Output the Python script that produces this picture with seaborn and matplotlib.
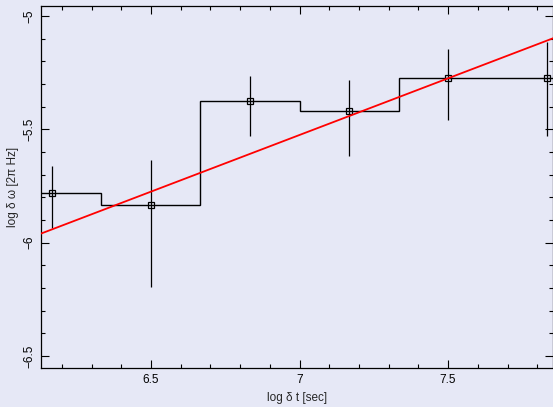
import numpy as np
import matplotlib
matplotlib.use("Agg")
import matplotlib.pyplot as plt
import seaborn as sns

# binned data (log dt vs log d omega)
bin_edges = [6.0, 6.3333, 6.6667, 7.0, 7.3333, 7.6667, 8.0]
log_dt = [6.167, 6.5, 6.833, 7.167, 7.5, 7.833]
log_dw = [-5.779, -5.834, -5.376, -5.420, -5.275, -5.275]
err_hi = [-5.660, -5.635, -5.265, -5.284, -5.146, -5.113]
err_lo = [-5.937, -6.197, -5.531, -5.619, -5.457, -5.529]

# linear fit
fit_slope = 0.5
fit_icept = -9.025

bg = "#e6e8f6"

sns.set_theme(style="ticks")
plt.rcParams["font.family"] = ["Liberation Sans", "DejaVu Sans"]
plt.rcParams["xtick.direction"] = "in"
plt.rcParams["ytick.direction"] = "in"

fig = plt.figure(figsize=(5.53, 4.07), dpi=100, facecolor=bg)
ax = fig.add_axes([41 / 553, 1 - 368 / 407, 1 - 41 / 553, (368 - 6) / 407])
ax.set_facecolor(bg)

ax.stairs(log_dw, bin_edges, color="black", lw=1.0)

yerr = np.array([np.array(log_dw) - np.array(err_lo), np.array(err_hi) - np.array(log_dw)])
ax.errorbar(log_dt, log_dw, yerr=yerr, fmt="s", ms=4.5, mfc="none", mec="black",
            mew=0.9, ecolor="black", elinewidth=0.9, capsize=0, zorder=3)

xfit = np.array([6.0, 8.0])
sns.lineplot(x=xfit, y=fit_icept + fit_slope * xfit, color="red", lw=1.3, ax=ax, zorder=4)

ax.set_xlim(6.13, 7.853)
ax.set_ylim(-6.553, -4.956)
ax.set_xticks([6.5, 7, 7.5])
ax.set_xticklabels(["6.5", "7", "7.5"])
ax.set_yticks([-6.5, -6, -5.5, -5])
ax.set_yticklabels(["\u22126.5", "\u22126", "\u22125.5", "\u22125"], rotation=90, va="center")
ax.set_xticks(np.arange(6.2, 7.86, 0.1), minor=True)
ax.set_yticks(np.arange(-6.5, -4.95, 0.1), minor=True)
ax.tick_params(which="both", top=True, right=True, colors="black", labelsize=8.5, width=0.8)
ax.tick_params(which="major", length=6, pad=4)
ax.tick_params(which="minor", length=3)
for s in ax.spines.values():
    s.set_color("black")
    s.set_linewidth(0.9)

ax.set_xlabel("log \u03b4 t [sec]", fontsize=8.5, labelpad=5)
ax.set_ylabel("log \u03b4 \u03c9 [2\u03c0 Hz]", fontsize=8.5, labelpad=3)

fig.savefig("out.png", dpi=100, facecolor=bg)
